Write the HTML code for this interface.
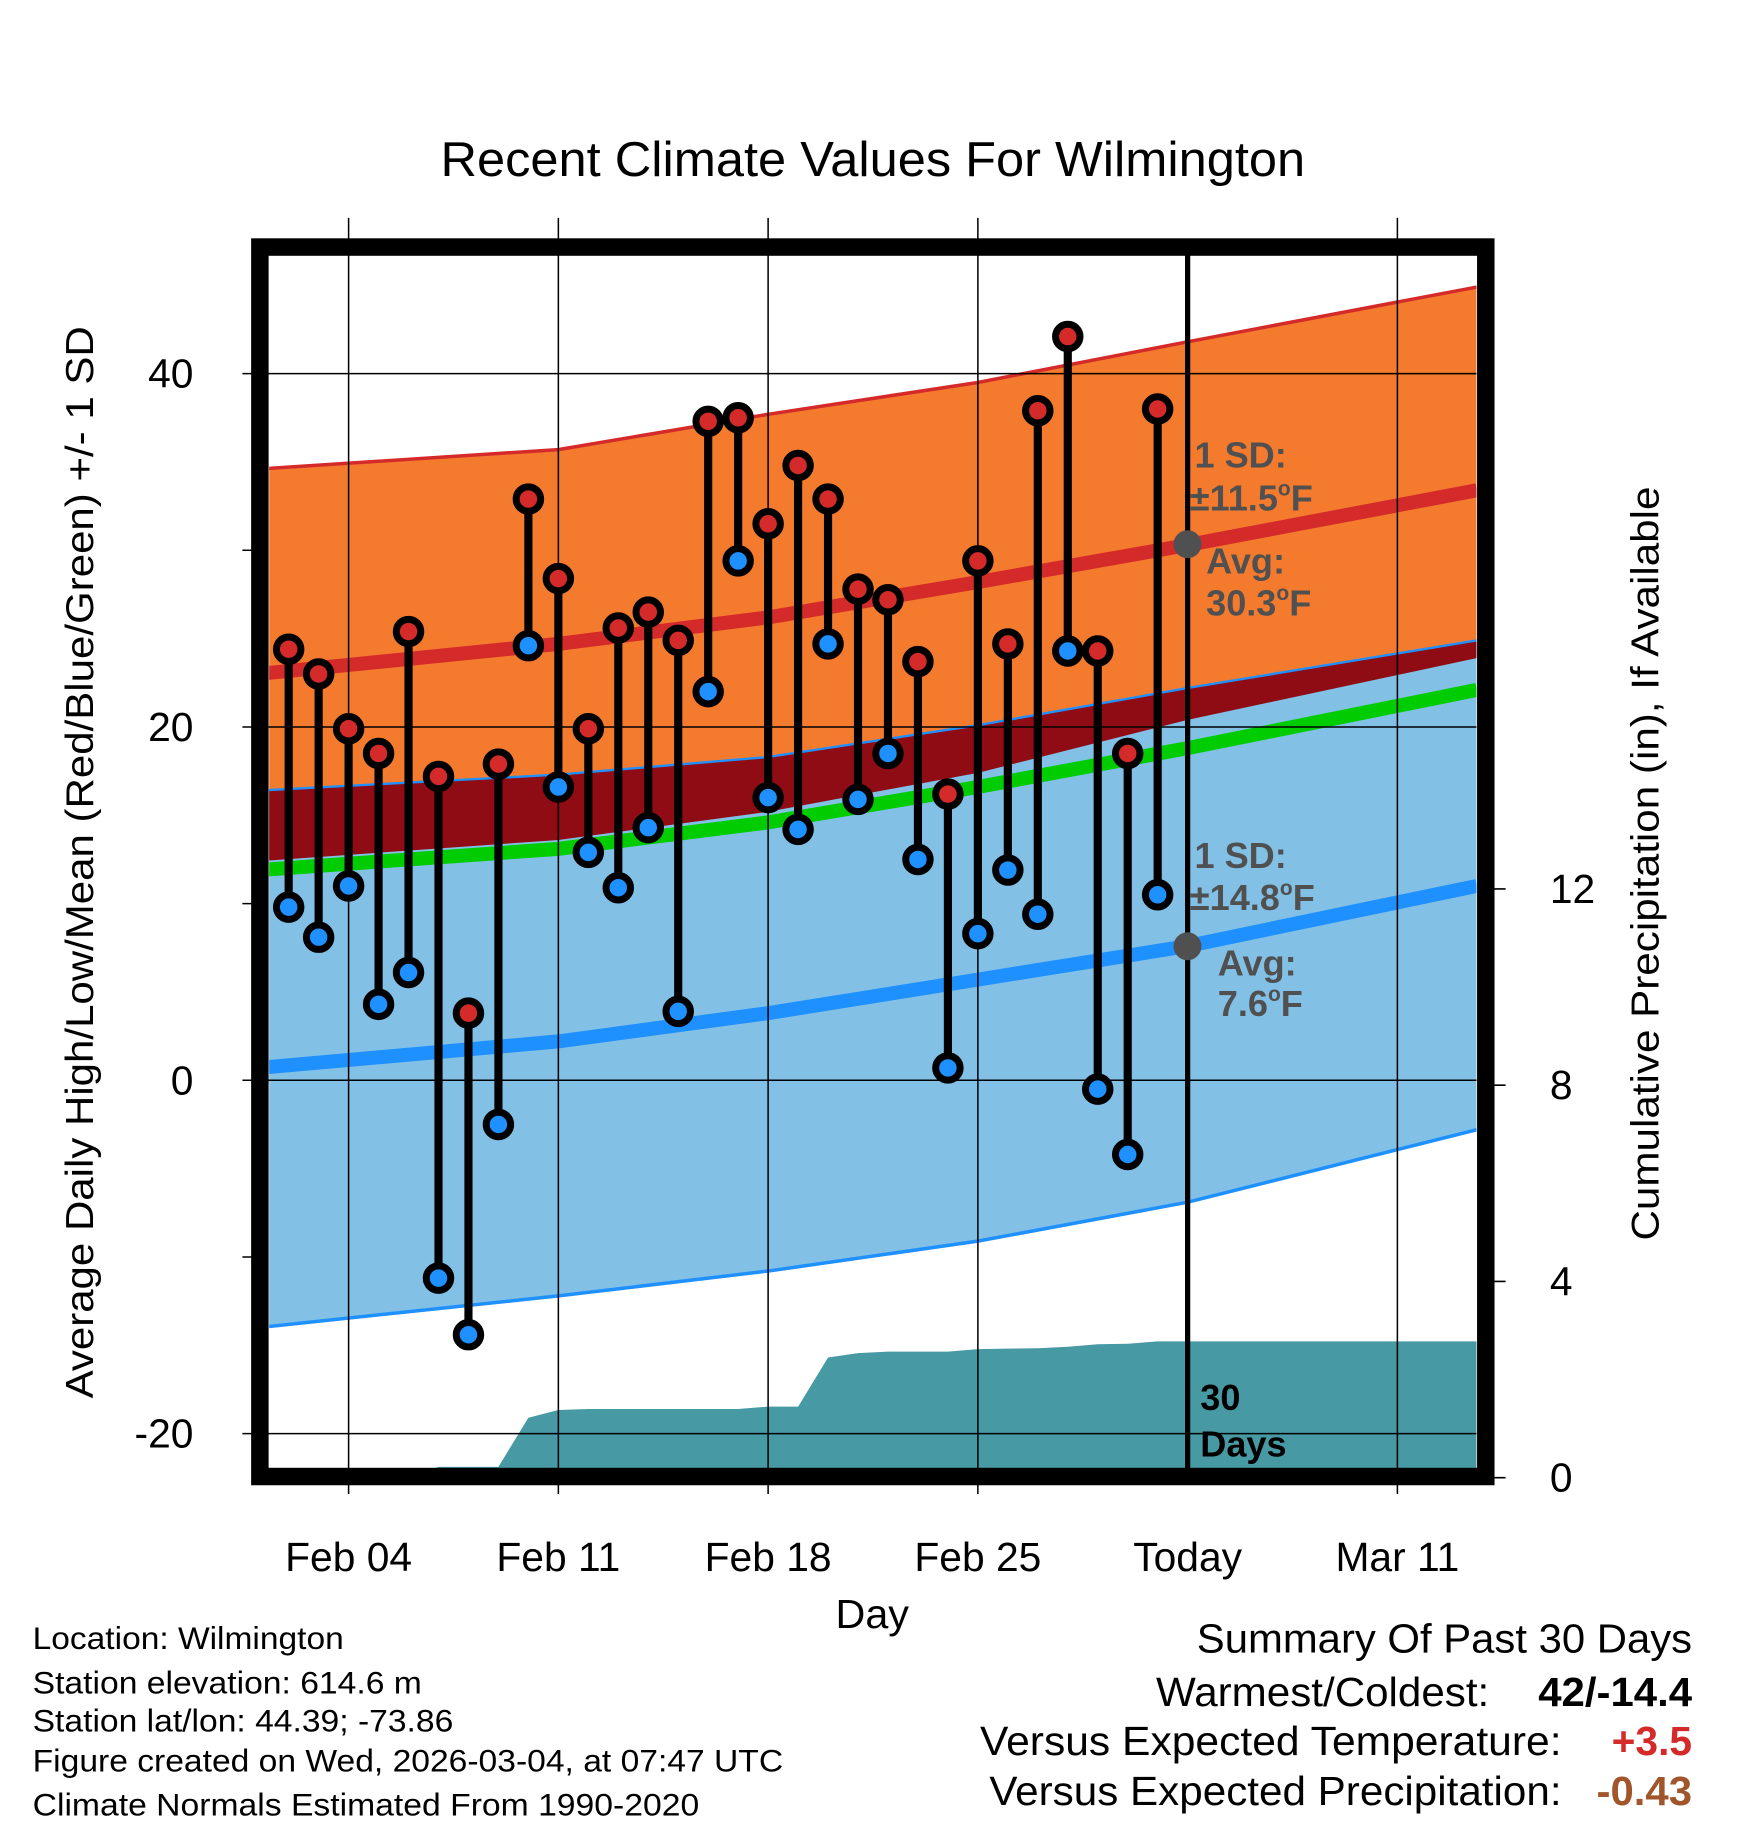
<!DOCTYPE html>
<html><head><meta charset="utf-8"><style>
html,body{margin:0;padding:0;background:#fff;}
svg{display:block;font-family:"Liberation Sans",Arial,sans-serif;}
</style></head><body>
<svg id="chart" width="1748" height="1828" viewBox="0 0 1500 1568.6" preserveAspectRatio="none" xmlns="http://www.w3.org/2000/svg">
<defs><clipPath id="pc"><rect x="231" y="219" width="1036" height="1041"/></clipPath></defs>
<rect width="1500" height="1568.6" fill="#fff"/>
<text x="378" y="151" font-size="42" textLength="742" lengthAdjust="spacingAndGlyphs">Recent Climate Values For Wilmington</text>
<g id="bands" clip-path="url(#pc)"></g>
<g id="grid"></g>
<g id="marks"></g>
<g id="annot">
  <circle cx="1019" cy="467" r="12" fill="#505050"/>
  <circle cx="1019" cy="812" r="12" fill="#505050"/>
  <g font-weight="bold" font-size="31" fill="#505050">
    <text x="1025" y="401">1 SD:</text>
    <text x="1021" y="438">±11.5<tspan font-size="18" dy="-13">o</tspan><tspan dy="13">F</tspan></text>
    <text x="1035" y="492">Avg:</text>
    <text x="1035" y="528">30.3<tspan font-size="18" dy="-13">o</tspan><tspan dy="13">F</tspan></text>
    <text x="1025" y="745">1 SD:</text>
    <text x="1021" y="781">±14.8<tspan font-size="18" dy="-13">o</tspan><tspan dy="13">F</tspan></text>
    <text x="1045" y="837">Avg:</text>
    <text x="1045" y="872">7.6<tspan font-size="18" dy="-13">o</tspan><tspan dy="13">F</tspan></text>
  </g>
  <text x="1030" y="1210" font-size="31" font-weight="bold">30</text>
  <text x="1030" y="1250" font-size="31" font-weight="bold">Days</text>
</g>
<rect x="223" y="212" width="1052" height="1055" fill="none" stroke="#000" stroke-width="15"/>
<g id="axes" font-size="35"></g>
<text transform="translate(80,740) rotate(-90)" font-size="33" text-anchor="middle" textLength="920" lengthAdjust="spacingAndGlyphs">Average Daily High/Low/Mean (Red/Blue/Green) +/- 1 SD</text>
<text transform="translate(1423,741) rotate(-90)" font-size="33" text-anchor="middle" textLength="647" lengthAdjust="spacingAndGlyphs">Cumulative Precipitation (in), If Available</text>
<text x="717" y="1397" font-size="35" textLength="63" lengthAdjust="spacingAndGlyphs">Day</text>
<g font-size="27">
  <text x="28" y="1415" textLength="267" lengthAdjust="spacingAndGlyphs">Location: Wilmington</text>
  <text x="28" y="1453" textLength="334" lengthAdjust="spacingAndGlyphs">Station elevation: 614.6 m</text>
  <text x="28" y="1486" textLength="361" lengthAdjust="spacingAndGlyphs">Station lat/lon: 44.39; -73.86</text>
  <text x="28" y="1520" textLength="644" lengthAdjust="spacingAndGlyphs">Figure created on Wed, 2026-03-04, at 07:47 UTC</text>
  <text x="28" y="1558" textLength="572" lengthAdjust="spacingAndGlyphs">Climate Normals Estimated From 1990-2020</text>
</g>
<g font-size="35">
  <text x="1027" y="1418" textLength="425" lengthAdjust="spacingAndGlyphs">Summary Of Past 30 Days</text>
  <text x="992" y="1464" textLength="286" lengthAdjust="spacingAndGlyphs">Warmest/Coldest:</text>
  <text x="1320" y="1464" font-weight="bold" textLength="132" lengthAdjust="spacingAndGlyphs">42/-14.4</text>
  <text x="841" y="1506" textLength="499" lengthAdjust="spacingAndGlyphs">Versus Expected Temperature:</text>
  <text x="1383" y="1506" font-weight="bold" fill="#d42a2a" textLength="69" lengthAdjust="spacingAndGlyphs">+3.5</text>
  <text x="849" y="1549" textLength="491" lengthAdjust="spacingAndGlyphs">Versus Expected Precipitation:</text>
  <text x="1370" y="1549" font-weight="bold" fill="#a0552a" textLength="82" lengthAdjust="spacingAndGlyphs">-0.43</text>
</g>
</svg>
<script>
// ---- data (days offset from Feb 1) ----
const normDays = [0, 10, 17, 24, 31, 40.65];
const highTop = [34.6, 35.7, 37.7, 39.5, 41.8, 44.9];
const highMean = [23.0, 24.7, 26.2, 28.2, 30.3, 33.4];
const highBottom = [12.4, 13.6, 15.2, 17.4, 20.4, 23.9];
const lowTop = [16.4, 17.3, 18.3, 20.1, 22.2, 24.9];
const meanTemp = [11.9, 13.1, 14.6, 16.6, 18.8, 22.1];
const lowMean = [0.7, 2.2, 3.8, 5.7, 7.6, 11.0];
const lowBottom = [-14.0, -12.2, -10.8, -9.1, -6.9, -2.8];
const obsDays = [1,2,3,4,5,6,7,8,9,10,11,12,13,14,15,16,17,18,19,20,21,22,23,24,25,26,27,28,29,30];
const highs = [24.4,23.0,19.9,18.5,25.4,17.2,3.8,17.9,32.9,28.4,19.9,25.6,26.5,24.9,37.3,37.5,31.5,34.8,32.9,27.8,27.2,23.7,16.2,29.4,24.7,37.9,42.1,24.3,18.5,38.0];
const lows = [9.8,8.1,11.0,4.3,6.1,-11.2,-14.4,-2.5,24.6,16.6,12.9,10.9,14.3,3.9,22.0,29.4,16.0,14.2,24.7,15.9,18.5,12.5,0.7,8.3,11.9,9.4,24.3,-0.5,-4.2,10.5];
const precipDays = [0,1,2,3,4,5,6,7,8,9,10,11,12,13,14,15,16,17,18,19,20,21,22,23,24,25,26,27,28,29,30,40.65];
const precip = [0,0,0,0,0,0,0.22,0.22,0.22,1.22,1.38,1.40,1.40,1.40,1.40,1.40,1.40,1.45,1.45,2.45,2.54,2.57,2.57,2.57,2.62,2.63,2.64,2.67,2.72,2.73,2.78,2.78];
const xTickDays = [3, 10, 17, 24, 31, 38];
const xTickLabels = ["Feb 04","Feb 11","Feb 18","Feb 25","Today","Mar 11"];
const yTicks = [40, 20, 0, -20];
const yMinorTicks = [30, 10, -10];
const y2Ticks = [0, 4, 8, 12];
const todayDay = 31;

const NS = "http://www.w3.org/2000/svg";
const X = d => 222 + d * 25.714;
const Y = v => 927 - v * 15.16;
const YP = p => 1268 - p * 42.1;
function mk(tag, attrs, parent){const e=document.createElementNS(NS,tag);for(const k in attrs)e.setAttribute(k,attrs[k]);parent.appendChild(e);return e;}
const pts = (ds, vs) => ds.map((d,i)=>X(d).toFixed(1)+","+Y(vs[i]).toFixed(1));
function bandPath(ds, top, bot){const a=pts(ds,top), b=pts(ds,bot).reverse();return "M"+a.join(" L")+" L"+b.join(" L")+"Z";}
function linePath(ds, vs){return "M"+pts(ds,vs).join(" L");}

const bands = document.getElementById("bands");
let e;
e = mk("path",{d:bandPath(normDays,highTop,highBottom),fill:"#f47a2e"},bands);


e = mk("path",{d:bandPath(normDays,lowTop,lowBottom),fill:"#82c0e6"},bands);


e = mk("path",{d:bandPath(normDays,lowTop,highBottom),fill:"#8f0c14"},bands);


e = mk("path",{d:linePath(normDays,highTop),fill:"none",stroke:"#d42a2a","stroke-width":3},bands);


e = mk("path",{d:linePath(normDays,lowTop),fill:"none",stroke:"#1e90ff","stroke-width":2},bands);


e = mk("path",{d:linePath(normDays,lowBottom),fill:"none",stroke:"#1e90ff","stroke-width":3},bands);


e = mk("path",{d:linePath(normDays,meanTemp),fill:"none",stroke:"#00cc00","stroke-width":12},bands);


e = mk("path",{d:linePath(normDays,highMean),fill:"none",stroke:"#d42a2a","stroke-width":12},bands);


e = mk("path",{d:linePath(normDays,lowMean),fill:"none",stroke:"#1e90ff","stroke-width":12},bands);


// precip area
let pd = "M"+X(precipDays[0])+","+YP(0);
precipDays.forEach((d,i)=>{pd+=" L"+X(d).toFixed(1)+","+YP(precip[i]).toFixed(1);});
pd += " L"+X(precipDays[precipDays.length-1])+","+YP(0)+"Z";
e = mk("path",{d:pd,fill:"#4799a3"},bands);



// grid
const grid = document.getElementById("grid");
xTickDays.forEach((d,i)=>{
  if(d===todayDay) return;
  const g = mk("line",{x1:X(d),x2:X(d),y1:187,y2:1282,stroke:"#000","stroke-width":1.3},grid);
  
  
});
yTicks.forEach(v=>{
  const g = mk("line",{x1:208,x2:1267,y1:Y(v),y2:Y(v),stroke:"#000","stroke-width":1.3},grid);
  
  
});
yMinorTicks.forEach(v=>{
  const g = mk("line",{x1:208,x2:222,y1:Y(v),y2:Y(v),stroke:"#000","stroke-width":1.3},grid);
  
  
});
y2Ticks.forEach(p=>{
  const g = mk("line",{x1:1276,x2:1292,y1:YP(p),y2:YP(p),stroke:"#000","stroke-width":1.3},grid);
  
  
});
const today = mk("line",{x1:X(todayDay),x2:X(todayDay),y1:212,y2:1267,stroke:"#000","stroke-width":4.5},grid);



// data marks
const marks = document.getElementById("marks");
obsDays.forEach((d,i)=>{
  const s = mk("line",{x1:X(d),x2:X(d),y1:Y(highs[i]),y2:Y(lows[i]),stroke:"#000","stroke-width":7},marks);
  
  
});
obsDays.forEach((d,i)=>{
  const h = mk("circle",{cx:X(d),cy:Y(highs[i]),r:10.5,fill:"#d42a2a",stroke:"#000","stroke-width":6},marks);
  
  
  const l = mk("circle",{cx:X(d),cy:Y(lows[i]),r:10.5,fill:"#1e90ff",stroke:"#000","stroke-width":6},marks);
  
  
});

// axis labels
const axes = document.getElementById("axes");
yTicks.forEach(v=>{
  const t = mk("text",{x:166,y:Y(v)+12,"text-anchor":"end"},axes);
  t.textContent = String(v);
  
  
});
y2Ticks.forEach(p=>{
  const t = mk("text",{x:1330,y:YP(p)+12},axes);
  t.textContent = String(p);
  
  
});
xTickDays.forEach((d,i)=>{
  const t = mk("text",{x:X(d),y:1348,"text-anchor":"middle"},axes);
  t.textContent = xTickLabels[i];
  
  
});
</script>
</body></html>
